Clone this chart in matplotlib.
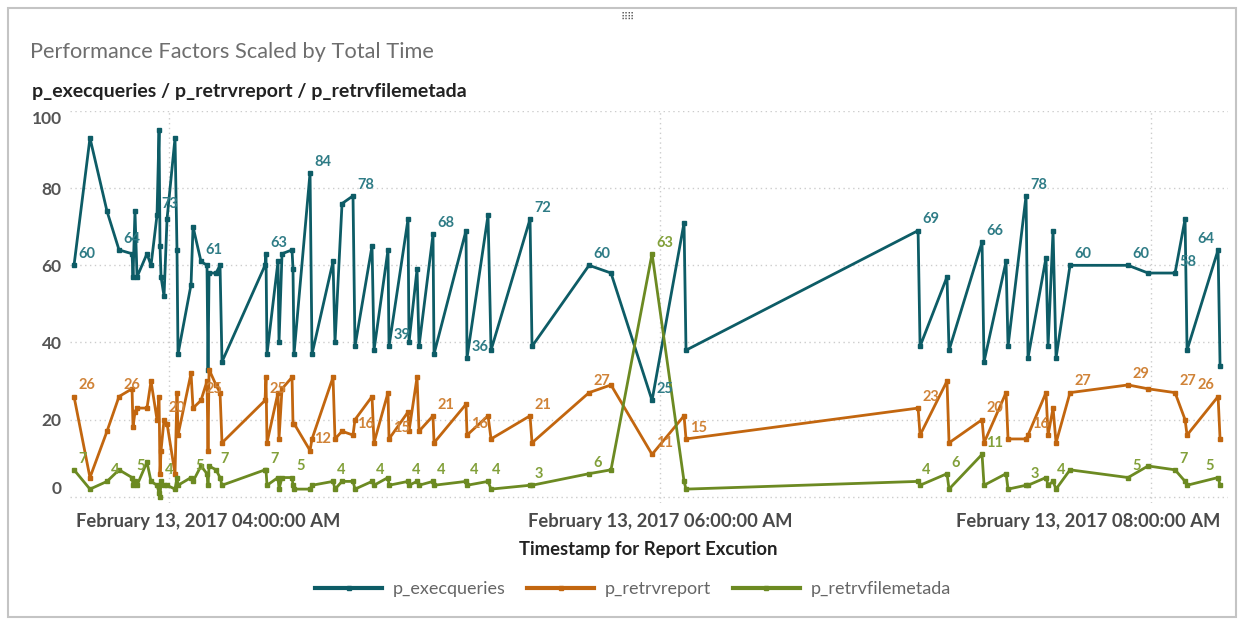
import matplotlib
matplotlib.use("Agg")
import matplotlib.pyplot as plt
from matplotlib.patches import Rectangle
import pandas as pd

plt.rcParams['font.family'] = ['Lato', 'DejaVu Sans']

# report runs on Feb 13, 2017 (time of day)
times = ["03:36:47", "03:40:41", "03:44:51", "03:47:47", "03:50:58", "03:51:12",
         "03:51:41", "03:52:11", "03:54:37", "03:55:36", "03:57:04", "03:57:34",
         "03:57:48", "03:58:03", "03:58:47", "03:59:31", "04:01:28", "04:01:57",
         "04:02:12", "04:05:23", "04:05:52", "04:07:49", "04:09:17", "04:09:32",
         "04:09:47", "04:11:29", "04:12:28", "04:12:57", "04:23:28", "04:23:42",
         "04:23:57", "04:26:38", "04:26:53", "04:27:37", "04:30:04", "04:30:18",
         "04:30:33", "04:34:28", "04:34:57", "04:40:05", "04:40:34", "04:42:17",
         "04:44:58", "04:45:27", "04:49:37", "04:50:06", "04:53:31", "04:53:46",
         "04:58:25", "04:58:39", "05:00:37", "05:01:06", "05:04:31", "05:04:46",
         "05:12:35", "05:12:50", "05:17:58", "05:18:42", "05:28:14", "05:28:43",
         "05:42:39", "05:48:01", "05:58:03", "06:05:52", "06:06:21", "07:03:04",
         "07:03:33", "07:10:08", "07:10:38", "07:18:42", "07:19:11", "07:24:34",
         "07:25:03", "07:29:27", "07:29:56", "07:34:20", "07:34:50", "07:36:03",
         "07:36:47", "07:40:12", "07:54:23", "07:59:16", "08:05:52", "08:08:19",
         "08:08:48", "08:16:23", "08:16:52"]

p_execqueries = [60, 93, 74, 64, 63, 57, 74, 57, 63, 60, 73, 95, 65, 57, 52, 72,
                 93, 64, 37, 55, 70, 61, 60, 33, 58, 58, 60, 35, 60, 63, 37, 61,
                 40, 63, 64, 59, 37, 84, 37, 61, 40, 76, 78, 39, 65, 38, 64, 39,
                 72, 40, 59, 39, 68, 37, 69, 36, 73, 38, 72, 39, 60, 58, 25, 71,
                 38, 69, 39, 57, 38, 66, 35, 61, 39, 78, 36, 62, 39, 69, 36, 60,
                 60, 58, 58, 72, 38, 64, 34]

p_retrvreport = [26, 5, 17, 26, 28, 18, 22, 23, 23, 30, 20, 26, 6, 12, 20, 19,
                 6, 27, 16, 32, 23, 25, 30, 12, 33, 29, 27, 14, 25, 31, 14, 27,
                 15, 28, 31, 19, 19, 12, 15, 31, 15, 17, 16, 20, 26, 14, 27, 15,
                 22, 17, 31, 17, 21, 14, 24, 16, 21, 15, 21, 14, 27, 29, 11, 21,
                 15, 23, 16, 30, 14, 20, 14, 27, 15, 15, 16, 27, 16, 23, 14, 27,
                 29, 28, 27, 20, 16, 26, 15]

p_retrvfilemetada = [7, 2, 4, 7, 5, 3, 4, 3, 9, 4, 3, 1, 0, 4, 3, 3,
                     2, 5, 3, 5, 4, 8, 6, 3, 8, 7, 5, 3, 7, 7, 3, 5,
                     2, 5, 5, 3, 2, 2, 3, 4, 2, 4, 4, 2, 4, 3, 5, 3,
                     4, 3, 4, 3, 4, 3, 4, 3, 4, 2, 3, 3, 6, 7, 63, 4,
                     2, 4, 3, 6, 2, 11, 3, 6, 2, 3, 3, 5, 3, 4, 2, 7,
                     5, 8, 7, 4, 3, 5, 3]

# which points carry a value label
exec_labels = [0, 3, 10, 21, 29, 37, 42, 47, 52, 55, 58, 60, 62, 65, 69, 73, 79, 80, 82, 85]
report_labels = [0, 3, 14, 21, 28, 37, 42, 47, 52, 55, 58, 60, 62, 64, 65, 69, 74, 79, 80, 82, 85]
meta_labels = [0, 2, 4, 13, 19, 25, 29, 34, 39, 44, 48, 52, 54, 56, 58, 60, 62, 65, 67,
               69, 73, 77, 80, 82, 85]

x_ticks = ["04:00:00", "06:00:00", "08:00:00"]
y_ticks = [0, 20, 40, 60, 80, 100]

ts = pd.to_datetime(["2017-02-13 " + t for t in times])
tick_ts = pd.to_datetime(["2017-02-13 " + t for t in x_ticks])

series = [
    ("p_execqueries", p_execqueries, "#0d5c66", "#2f7c86", exec_labels),
    ("p_retrvreport", p_retrvreport, "#c2660f", "#d08338", report_labels),
    ("p_retrvfilemetada", p_retrvfilemetada, "#6c8a22", "#82a03a", meta_labels),
]

fig = plt.figure(figsize=(12.41, 6.21), dpi=100)
fig.patch.set_facecolor("white")
ax = fig.add_axes([0.0564, 0.190, 0.9331, 0.6313])

for name, vals, col, lcol, lab in series:
    ax.plot(ts, vals, color=col, lw=2.0, marker="s", ms=3.2, label=name,
            solid_joinstyle="round", zorder=3)
    for i in lab:
        if i == len(vals) - 2:
            off, ha = (-3, 3), "right"
        else:
            off, ha = (3, 3), "left"
        ax.annotate(str(vals[i]), (ts[i], vals[i]), xytext=off, textcoords="offset points",
                    ha=ha, va="bottom", fontsize=10.5, fontweight="bold", color=lcol,
                    zorder=4)

ax.set_xlim(pd.Timestamp("2017-02-13 03:35:48"), pd.Timestamp("2017-02-13 08:18:48"))
ax.set_ylim(-1.6, 100)

ax.set_yticks(y_ticks)
ax.set_xticks(tick_ts)
ax.set_xticklabels([])
ax.grid(True, color="#cccccc", ls=(0, (1, 2.5)), lw=1.0)
ax.tick_params(length=0, labelsize=12.5, labelcolor="#555555", pad=6)
for lbl in ax.get_yticklabels():
    lbl.set_fontweight("bold")
ylabs = ax.get_yticklabels()
ylabs[0].set_va("bottom")
ylabs[-1].set_va("top")
for s in ax.spines.values():
    s.set_visible(False)

# date labels: first and last are kept inside the plot area
fmt = "%B %d, %Y %I:%M:%S %p"
lab_kw = dict(fontsize=13.2, fontweight="bold", color="#4a4a4a", va="center")
ax.text(0.005, -0.047, tick_ts[0].strftime(fmt), transform=ax.transAxes, ha="left", **lab_kw)
ax.text(tick_ts[1], -0.047, tick_ts[1].strftime(fmt), transform=ax.get_xaxis_transform(),
        ha="center", **lab_kw)
ax.text(0.9935, -0.047, tick_ts[2].strftime(fmt), transform=ax.transAxes, ha="right", **lab_kw)

fig.text(0.522, 1 - 550 / 621, "Timestamp for Report Excution", ha="center", va="center",
         fontsize=13.3, fontweight="bold", color="#222222")

fig.text(30 / 1241, 1 - 52 / 621, "Performance Factors Scaled by Total Time", ha="left",
         va="center", fontsize=15.7, fontweight="normal", color="#6e6e6e")
fig.text(32 / 1241, 1 - 91 / 621, "p_execqueries / p_retrvreport / p_retrvfilemetada",
         ha="left", va="center", fontsize=14, fontweight="bold", color="#222222")
fig.text(628 / 1241, 1 - 17 / 621, "\u283f\u283f", ha="center", va="center", fontsize=7,
         color="#555555", family="DejaVu Sans")

leg = fig.legend(loc="center", bbox_to_anchor=(0.51, 1 - 589 / 621), ncol=3, frameon=False,
                 fontsize=13, handlelength=3.7, handletextpad=0.6, columnspacing=1.2)
for t in leg.get_texts():
    t.set_color("#666666")
for h in leg.get_lines():
    h.set_linewidth(3)

fig.patches.append(Rectangle((8 / 1241, 4 / 621), 1228 / 1241, 609 / 621,
                             transform=fig.transFigure, fill=False, ec="#c4c4c4", lw=1.5))

fig.savefig("out.png", dpi=100, facecolor="white")
